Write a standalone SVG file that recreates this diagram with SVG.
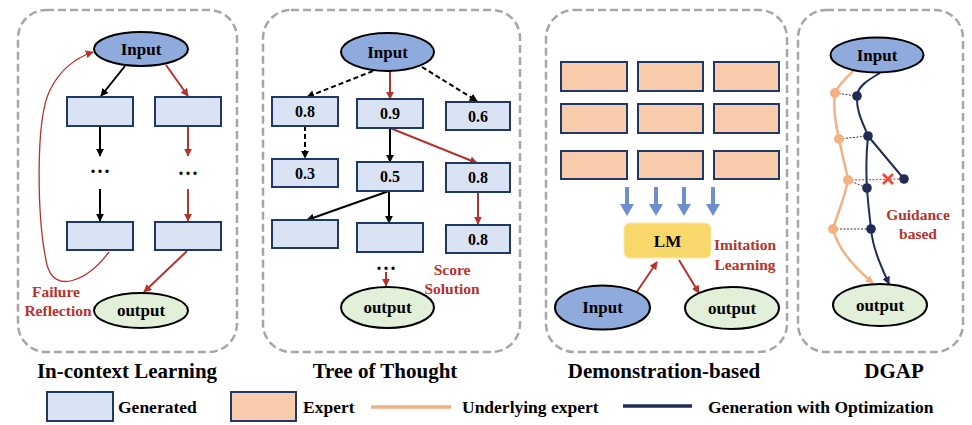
<svg xmlns="http://www.w3.org/2000/svg" width="972" height="425" viewBox="0 0 972 425">
<defs>
<style>
.panel{fill:#ffffff;stroke:#a6a6a6;stroke-width:2.5;stroke-dasharray:8 4}
.gen{fill:#dae3f3;stroke:#1f3864;stroke-width:2}
.exp{fill:#f8cbad;stroke:#1f3864;stroke-width:2}
.inp{fill:#8faadc;stroke:#000;stroke-width:2}
.out{fill:#e2f0d9;stroke:#000;stroke-width:2}
text{font-family:"Liberation Serif","Times New Roman",serif;font-weight:bold;fill:#000}
.lbl{font-size:17px;text-anchor:middle}
.num{font-size:16px;text-anchor:middle}
.red{font-size:15.5px;fill:#b8322a;text-anchor:middle}
.title{font-size:21px;text-anchor:middle}
.leg{font-size:17.5px}
.dots{font-size:20px;text-anchor:middle;letter-spacing:2px}
.bk{stroke:#000;stroke-width:2;fill:none;marker-end:url(#ab)}
.bkd{stroke:#000;stroke-width:2;fill:none;stroke-dasharray:5 3;marker-end:url(#ab)}
.rd{stroke:#b8322a;stroke-width:2;fill:none;marker-end:url(#ar)}
.org{stroke:#f4b183;stroke-width:2.5;fill:none}
.nav{stroke:#1f2d55;stroke-width:2;fill:none}
.thin{stroke:#333;stroke-width:1;stroke-dasharray:2 1.5;fill:none}
.blue{fill:#6d8fd0}
</style>
<marker id="ab" viewBox="0 0 10 10" refX="9" refY="5" markerWidth="8" markerHeight="8" markerUnits="userSpaceOnUse" orient="auto"><path d="M0,0 L10,5 L0,10 z" fill="#000"/></marker>
<marker id="ar" viewBox="0 0 10 10" refX="9" refY="5" markerWidth="8" markerHeight="8" markerUnits="userSpaceOnUse" orient="auto"><path d="M0,0 L10,5 L0,10 z" fill="#b8322a"/></marker>
<marker id="ao" viewBox="0 0 10 10" refX="9" refY="5" markerWidth="8" markerHeight="8" markerUnits="userSpaceOnUse" orient="auto"><path d="M0,0 L10,5 L0,10 z" fill="#f4b183"/></marker>
<marker id="an" viewBox="0 0 10 10" refX="9" refY="5" markerWidth="8" markerHeight="8" markerUnits="userSpaceOnUse" orient="auto"><path d="M0,0 L10,5 L0,10 z" fill="#1f2d55"/></marker>
</defs>

<!-- panels -->
<g id="panels">
<rect class="panel" x="18" y="10" width="219" height="342" rx="28"/>
<rect class="panel" x="263" y="10" width="257" height="342" rx="28"/>
<rect class="panel" x="546" y="10" width="241" height="342" rx="28"/>
<rect class="panel" x="798" y="10" width="165" height="342" rx="28"/>
</g>

<!-- connectors -->
<g id="connectors">
<!-- panel 1 -->
<line class="bk" x1="125" y1="66" x2="101" y2="96"/>
<line class="rd" x1="166" y1="65" x2="188" y2="96"/>
<line class="bk" x1="100" y1="126" x2="100" y2="156"/>
<line class="rd" x1="188" y1="126" x2="188" y2="156"/>
<line class="bk" x1="100" y1="189" x2="100" y2="221"/>
<line class="rd" x1="188" y1="189" x2="188" y2="221"/>
<line class="rd" x1="187" y1="251" x2="144" y2="292"/>
<path d="M109,252 C88,280 55,295 47,265 C37,220 35,120 50,90 C60,70 75,58 93,52" fill="none" stroke="#b8322a" stroke-width="1.3" marker-end="url(#ar)"/>
<!-- panel 2 -->
<line class="bkd" x1="373" y1="71" x2="307" y2="97"/>
<line class="rd" x1="390" y1="71" x2="390" y2="99"/>
<line class="bkd" x1="422" y1="67" x2="477" y2="101"/>
<line class="bkd" x1="305" y1="126" x2="305" y2="158"/>
<line class="bk" x1="390" y1="128" x2="390" y2="162"/>
<line class="rd" x1="390" y1="128" x2="477" y2="163"/>
<line class="bk" x1="389" y1="191" x2="307" y2="220"/>
<line class="bk" x1="389" y1="191" x2="389" y2="223"/>
<line class="rd" x1="478" y1="192" x2="478" y2="224"/>
<line class="rd" x1="386" y1="272" x2="386" y2="286"/>
<!-- panel 3 -->
<path class="blue" d="M625,187 h4 v17 h5 l-7,12 l-7,-12 h5 z"/>
<path class="blue" d="M654,187 h4 v17 h5 l-7,12 l-7,-12 h5 z"/>
<path class="blue" d="M682,187 h4 v17 h5 l-7,12 l-7,-12 h5 z"/>
<path class="blue" d="M711,187 h4 v17 h5 l-7,12 l-7,-12 h5 z"/>
<line class="rd" x1="636" y1="293" x2="657" y2="262"/>
<line class="rd" x1="679" y1="260" x2="699" y2="293"/>
<!-- panel 4 -->
<line class="thin" x1="835" y1="93" x2="857" y2="96"/>
<line class="thin" x1="839" y1="139" x2="868" y2="136"/>
<line class="thin" x1="848" y1="180" x2="867" y2="188"/>
<line x1="848" y1="180" x2="904" y2="179" stroke="#d9534f" stroke-width="1.2" stroke-dasharray="2 1.5"/>
<line class="thin" x1="833" y1="229" x2="871" y2="229"/>
<path class="org" d="M853,71 C845,80 838,85 835,93 C833,110 836,125 839,139 C842,155 846,168 848,180 C845,197 838,212 833,229 C838,250 855,268 873,283" marker-end="url(#ao)"/>
<path class="nav" d="M880,73 C868,80 858,86 857,96 C856,112 864,125 868,136 C866,155 866,172 867,188 C868,205 870,218 871,229 C873,250 882,268 889,284" marker-end="url(#an)"/>
<line class="nav" x1="868" y1="136" x2="904" y2="179"/>
<path d="M883,174 L893,184 M893,174 L883,184" stroke="#f04a3a" stroke-width="2.8" fill="none"/>
</g>

<!-- panel 1 nodes -->
<g id="icl-input"><ellipse class="inp" cx="141" cy="49" rx="47" ry="17"/><text class="lbl" x="141" y="55">Input</text></g>
<g id="icl-g1"><rect class="gen" x="67" y="97" width="66" height="29"/></g>
<g id="icl-g2"><rect class="gen" x="155" y="97" width="66" height="29"/></g>
<g id="icl-d1"><text class="dots" x="101" y="173">...</text></g>
<g id="icl-d2"><text class="dots" x="189" y="175">...</text></g>
<g id="icl-g3"><rect class="gen" x="67" y="222" width="66" height="28"/></g>
<g id="icl-g4"><rect class="gen" x="155" y="222" width="66" height="28"/></g>
<g id="icl-output"><ellipse class="out" cx="141" cy="310.5" rx="47" ry="17.5"/><text class="lbl" x="141" y="316">output</text></g>
<g id="icl-label"><text class="red" x="56" y="297">Failure</text><text class="red" x="58" y="316">Reflection</text></g>
<g id="icl-title"><text class="title" x="127" y="378">In-context Learning</text></g>

<!-- panel 2 nodes -->
<g id="tot-input"><ellipse class="inp" cx="387.5" cy="52" rx="46.5" ry="19"/><text class="lbl" x="387.5" y="58">Input</text></g>
<g id="tot-a1"><rect class="gen" x="272" y="97" width="66" height="29"/><text class="num" x="305" y="117">0.8</text></g>
<g id="tot-a2"><rect class="gen" x="357" y="99" width="66" height="29"/><text class="num" x="390" y="119">0.9</text></g>
<g id="tot-a3"><rect class="gen" x="446" y="102" width="64" height="28"/><text class="num" x="478" y="122">0.6</text></g>
<g id="tot-b1"><rect class="gen" x="272" y="159" width="66" height="28"/><text class="num" x="305" y="179">0.3</text></g>
<g id="tot-b2"><rect class="gen" x="357" y="162" width="66" height="29"/><text class="num" x="390" y="182">0.5</text></g>
<g id="tot-b3"><rect class="gen" x="446" y="163" width="64" height="29"/><text class="num" x="478" y="183">0.8</text></g>
<g id="tot-c1"><rect class="gen" x="272" y="220" width="66" height="28"/></g>
<g id="tot-c2"><rect class="gen" x="357" y="223" width="66" height="29"/></g>
<g id="tot-c3"><rect class="gen" x="446" y="225" width="64" height="28"/><text class="num" x="478" y="245">0.8</text></g>
<g id="tot-dots"><text class="dots" x="387" y="270">...</text></g>
<g id="tot-output"><ellipse class="out" cx="387.5" cy="307.5" rx="46.5" ry="20.5"/><text class="lbl" x="387.5" y="313">output</text></g>
<g id="tot-label"><text class="red" x="452" y="275">Score</text><text class="red" x="452" y="294">Solution</text></g>
<g id="tot-title"><text class="title" x="385" y="378">Tree of Thought</text></g>

<!-- panel 3 nodes -->
<g id="demo-experts">
<rect class="exp" x="561" y="62" width="66" height="29"/>
<rect class="exp" x="638" y="62" width="65" height="29"/>
<rect class="exp" x="714" y="62" width="65" height="29"/>
<rect class="exp" x="561" y="104" width="66" height="29"/>
<rect class="exp" x="638" y="104" width="65" height="29"/>
<rect class="exp" x="714" y="104" width="65" height="29"/>
<rect class="exp" x="561" y="151" width="66" height="28"/>
<rect class="exp" x="638" y="151" width="65" height="28"/>
<rect class="exp" x="714" y="151" width="65" height="28"/>
</g>
<g id="demo-lm"><rect x="624" y="223" width="87" height="35" rx="6" fill="#f9d86b" stroke="#fbe9a8" stroke-width="1"/><text class="lbl" x="667.5" y="247">LM</text></g>
<g id="demo-label"><text class="red" x="745" y="250">Imitation</text><text class="red" x="745" y="270">Learning</text></g>
<g id="demo-input"><ellipse class="inp" cx="602.5" cy="307.5" rx="47.5" ry="22"/><text class="lbl" x="602.5" y="313">Input</text></g>
<g id="demo-output"><ellipse class="out" cx="732" cy="308" rx="47" ry="21"/><text class="lbl" x="732" y="314">output</text></g>
<g id="demo-title"><text class="title" x="664" y="378">Demonstration-based</text></g>

<!-- panel 4 nodes -->
<g id="dgap-input"><ellipse class="inp" cx="877" cy="55" rx="46.5" ry="17.5"/><text class="lbl" x="877" y="61">Input</text></g>
<g id="dgap-output"><ellipse class="out" cx="880" cy="305" rx="47" ry="21"/><text class="lbl" x="880" y="311">output</text></g>
<g id="dgap-points">
<circle cx="835" cy="93" r="5" fill="#f4b183"/>
<circle cx="839" cy="139" r="5" fill="#f4b183"/>
<circle cx="848" cy="180" r="5" fill="#f4b183"/>
<circle cx="833" cy="229" r="5" fill="#f4b183"/>
<circle cx="857" cy="96" r="4.8" fill="#1f2d55"/>
<circle cx="868" cy="136" r="4.8" fill="#1f2d55"/>
<circle cx="867" cy="188" r="4.8" fill="#1f2d55"/>
<circle cx="871" cy="229" r="4.8" fill="#1f2d55"/>
<circle cx="904" cy="179" r="4.8" fill="#1f2d55"/>
</g>
<g id="dgap-label"><text class="red" x="918" y="220">Guidance</text><text class="red" x="918" y="239">based</text></g>
<g id="dgap-title"><text class="title" x="894" y="378">DGAP</text></g>

<!-- legend -->
<g id="legend">
<rect class="gen" x="47" y="392" width="66" height="29"/>
<text class="leg" x="118" y="413">Generated</text>
<rect class="exp" x="231" y="392" width="65" height="29"/>
<text class="leg" x="303" y="413">Expert</text>
<line x1="371" y1="407" x2="451" y2="407" stroke="#f4b183" stroke-width="3.5"/>
<text class="leg" x="462" y="413">Underlying expert</text>
<line x1="623" y1="406" x2="692" y2="406" stroke="#1f2d55" stroke-width="3.5"/>
<text class="leg" x="708" y="413">Generation with Optimization</text>
</g>
</svg>
